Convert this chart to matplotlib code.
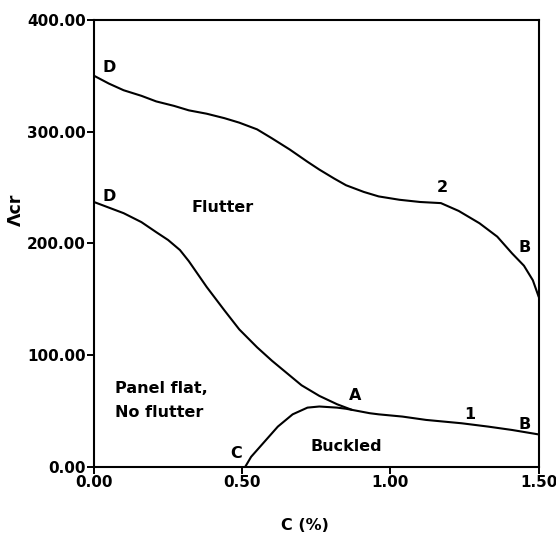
import numpy as np
import matplotlib
matplotlib.use("Agg")
import matplotlib.pyplot as plt

# upper flutter boundary D-2-B
c_upper = [0.0, 0.05, 0.10, 0.16, 0.21, 0.27, 0.32, 0.38, 0.44, 0.49, 0.55, 0.60, 0.66, 0.72, 0.76, 0.81,
           0.85, 0.91, 0.96, 1.03, 1.10, 1.17, 1.23, 1.30, 1.36, 1.41, 1.45, 1.48, 1.50]
lam_upper = [350, 343, 337, 332, 327, 323, 319, 316, 312, 308, 302, 294, 284, 273, 266, 258,
             252, 246, 242, 239, 237, 236, 229, 218, 206, 191, 180, 167, 152]

# lower flutter boundary D-A-1-B
c_lower = [0.0, 0.05, 0.10, 0.16, 0.21, 0.25, 0.29, 0.32, 0.38, 0.44, 0.49, 0.55, 0.60, 0.65, 0.70, 0.76,
           0.82, 0.87, 0.93, 0.96, 1.04, 1.12, 1.24, 1.33, 1.41, 1.50]
lam_lower = [237, 232, 227, 219, 210, 203, 194, 184, 161, 140, 123, 107, 95, 84, 73, 63.5,
             56, 51, 48, 47, 45, 42, 39, 36, 33, 29]

# buckling boundary C-A
c_buck = [0.51, 0.53, 0.56, 0.59, 0.62, 0.67, 0.72, 0.76, 0.82, 0.85, 0.87]
lam_buck = [0, 9, 18, 27, 36, 47, 53, 54, 53, 52, 51]

xticks = [0.0, 0.5, 1.0, 1.5]
yticks = [0, 100, 200, 300, 400]

fig = plt.figure(figsize=(5.56, 5.36), dpi=100)
ax = fig.add_axes([0.169, 0.129, 0.8, 0.834])

for cx, ly in [(c_upper, lam_upper), (c_lower, lam_lower), (c_buck, lam_buck)]:
    ax.plot(cx, ly, color="black", lw=1.5, solid_joinstyle="round", solid_capstyle="round")

ax.set_xlim(0, 1.5)
ax.set_ylim(0, 400)
ax.set_xticks(xticks)
ax.set_yticks(yticks)
ax.set_xticklabels(["%.2f" % v for v in xticks])
ax.set_yticklabels(["%.2f" % v for v in yticks])
ax.tick_params(direction="out", length=5, width=1.4, labelsize=11, pad=1)
for lab in ax.get_xticklabels() + ax.get_yticklabels():
    lab.set_fontweight("bold")
for s in ax.spines.values():
    s.set_linewidth(1.5)

ax.set_xlabel("C (%)", fontsize=11.5, fontweight="bold")
ax.xaxis.set_label_coords(0.474, -0.115)
ax.set_ylabel("Λcr", fontsize=12.5, fontweight="bold")
ax.yaxis.set_label_coords(-0.155, 0.575)

fs = 11.5
kw = dict(fontsize=fs, fontweight="bold")
ax.text(0.03, 353, "D", **kw)
ax.text(0.03, 238, "D", **kw)
ax.text(1.155, 246, "2", **kw)
ax.text(1.43, 192, "B", **kw)
ax.text(0.86, 60, "A", **kw)
ax.text(1.25, 43, "1", **kw)
ax.text(1.43, 34, "B", **kw)
ax.text(0.46, 8, "C", **kw)
ax.text(0.33, 228, "Flutter", **kw)
ax.text(0.07, 66, "Panel flat,", **kw)
ax.text(0.07, 45, "No flutter", **kw)
ax.text(0.73, 14, "Buckled", **kw)

fig.savefig("out.png", dpi=100)
